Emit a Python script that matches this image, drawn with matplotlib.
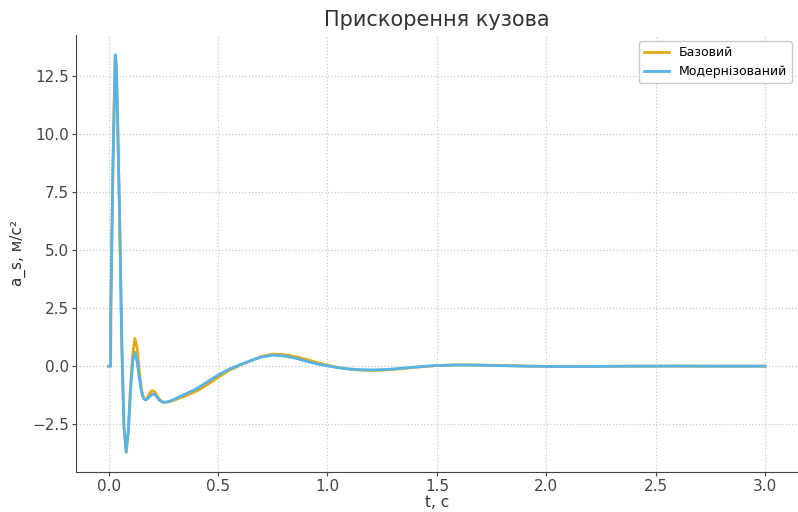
import numpy as np
import matplotlib.pyplot as plt

# Body acceleration response, sampled from the simulation output
t = [0.0, 0.009, 0.01, 0.02, 0.03, 0.035, 0.04, 0.05, 0.06, 0.07, 0.08, 0.09,
     0.10, 0.11, 0.12, 0.13, 0.14, 0.15, 0.16, 0.17, 0.18, 0.19, 0.20, 0.21,
     0.22, 0.23, 0.24, 0.25, 0.26, 0.27, 0.28, 0.30, 0.35, 0.40, 0.45, 0.50,
     0.55, 0.60, 0.65, 0.70, 0.75, 0.80, 0.85, 0.90, 0.95, 1.00, 1.05, 1.10,
     1.15, 1.20, 1.25, 1.30, 1.35, 1.40, 1.45, 1.50, 1.60, 1.70, 1.80, 1.90,
     2.00, 2.10, 2.20, 2.40, 2.60, 2.80, 3.00]

a_base = [0.0, 0.0, 2.5, 8.8, 13.3, 13.0, 11.0, 6.5, 1.0, -2.6, -3.7, -2.8,
          -0.9, 0.5, 1.2, 0.8, -0.2, -1.0, -1.4, -1.45, -1.3, -1.12, -1.05, -1.1,
          -1.25, -1.4, -1.5, -1.55, -1.55, -1.54, -1.52, -1.46, -1.28, -1.08, -0.8, -0.48,
          -0.18, 0.04, 0.24, 0.42, 0.52, 0.5, 0.42, 0.3, 0.16, 0.04, -0.06, -0.13,
          -0.17, -0.18, -0.17, -0.14, -0.1, -0.05, -0.01, 0.03, 0.06, 0.05, 0.03, 0.01,
          -0.01, -0.015, -0.01, 0.0, 0.005, 0.0, 0.0]

a_mod = [0.0, 0.0, 2.5, 8.8, 13.4, 13.0, 11.0, 6.5, 1.0, -2.6, -3.7, -2.8,
         -1.0, 0.2, 0.6, 0.2, -0.5, -1.1, -1.4, -1.45, -1.38, -1.28, -1.2, -1.22,
         -1.32, -1.45, -1.52, -1.55, -1.55, -1.53, -1.5, -1.42, -1.2, -0.98, -0.68, -0.38,
         -0.13, 0.06, 0.24, 0.4, 0.47, 0.44, 0.35, 0.22, 0.1, 0.01, -0.07, -0.12,
         -0.15, -0.16, -0.15, -0.12, -0.08, -0.04, 0.0, 0.03, 0.05, 0.04, 0.02, 0.0,
         -0.01, -0.015, -0.01, 0.0, 0.005, 0.0, 0.0]

fig = plt.figure(figsize=(7.98, 5.12), dpi=100)
ax = fig.add_axes([0.095, 0.078, 0.905, 0.854])

ax.plot(t, a_base, color='#E6A817', linewidth=2, label='Базовий')
ax.plot(t, a_mod, color='#56B4E9', linewidth=2, label='Модернізований')

ax.set_title('Прискорення кузова', fontsize=15, color='#333333', pad=6)
ax.set_xlabel('t, с', fontsize=11, color='#333333', labelpad=1)
ax.set_ylabel('a_s, м/с²', fontsize=11, color='#333333', labelpad=4)
ax.tick_params(labelsize=11, colors='#444444', length=3, pad=2)
ax.grid(True, linestyle=':', color='#c8c8c8', linewidth=0.9)
for side in ['top', 'right']:
    ax.spines[side].set_visible(False)
for side in ['left', 'bottom']:
    ax.spines[side].set_color('#444444')
ax.legend(loc='upper right', fontsize=9, framealpha=1, edgecolor='#cccccc')

fig.savefig('out.png', dpi=100)
